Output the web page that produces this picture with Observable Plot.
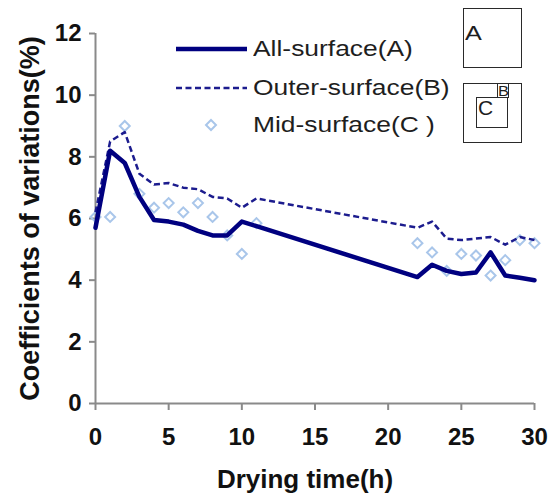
<!DOCTYPE html>
<html><head><meta charset="utf-8">
<script src="https://cdn.jsdelivr.net/npm/d3@7"></script>
<script src="https://cdn.jsdelivr.net/npm/@observablehq/plot@0.6"></script>
<style>
body{margin:0;background:#fff;}
#wrap{position:relative;width:552px;height:500px;overflow:hidden;background:#fff;}
.lt{position:absolute;font-family:"Liberation Sans",Arial,sans-serif;color:#1e1e1e;white-space:nowrap;line-height:1;transform-origin:0 50%;}
.bx{position:absolute;box-sizing:border-box;border:1.5px solid #2a2a2a;background:transparent;}
</style></head><body>
<div id="wrap"></div>
<script>
// ---- data ----
const hours = [0,1,2,3,4,5,6,7,8,9,10,11,22,23,24,25,26,27,28,29,30];
const allSurface   = [5.7,8.2,7.8,6.7,5.95,5.9,5.8,5.6,5.45,5.45,5.9,5.75,4.1,4.5,4.3,4.2,4.25,4.9,4.15,4.08,4.0];
const outerSurface = [6.2,8.5,8.8,7.45,7.1,7.15,7.0,6.95,6.7,6.65,6.35,6.65,5.7,5.9,5.35,5.3,5.35,5.4,5.15,5.4,5.3];
const midSurface   = [6.05,6.05,9.0,6.8,6.35,6.5,6.2,6.5,6.05,5.45,4.85,5.85,5.2,4.9,4.3,4.85,4.8,4.15,4.65,5.3,5.2];
const seriesNames = ["All-surface(A)","Outer-surface(B)","Mid-surface(C )"];
const xTicks = [0,5,10,15,20,25,30];
const yTicks = [0,2,4,6,8,10,12];
const xTitle = "Drying time(h)";
const yTitle = "Coefficients of variations(%)";
const insetLabels = ["A","B","C"];

const rows = hours.map((h,i)=>({h, a: allSurface[i], b: outerSurface[i], c: midSurface[i]}));

const axisGray = "#8a8a8a";
const colA = "#000080", colB = "#1c1c8e", colC = "#a9c6ea";

const chart = Plot.plot({
  width: 552, height: 500,
  marginLeft: 95, marginRight: 18, marginTop: 33, marginBottom: 97,
  style: {fontFamily: '"Liberation Sans", Arial, sans-serif', background: "white", color: "#111"},
  x: {domain: [0,30]},
  y: {domain: [0,12]},
  marks: [
    Plot.axisX({ticks: xTicks, tickSize: 7, tickPadding: 17, stroke: axisGray, strokeWidth: 2, fill: "#111", fontSize: 24, fontWeight: "bold", label: null}),
    Plot.axisY({ticks: yTicks, tickSize: 6, tickPadding: 8, stroke: axisGray, strokeWidth: 2, fill: "#111", fontSize: 24, fontWeight: "bold", label: null}),
    Plot.ruleY([0], {stroke: axisGray, strokeWidth: 2}),
    Plot.ruleX([0], {stroke: axisGray, strokeWidth: 2}),
    Plot.dot(rows, {x: "h", y: "c", symbol: "diamond2", r: 4.5, stroke: colC, strokeWidth: 2, fill: "none"}),
    Plot.line(rows, {x: "h", y: "b", stroke: colB, strokeWidth: 2.5, strokeDasharray: "6,3.5", strokeLinecap: "butt"}),
    Plot.line(rows, {x: "h", y: "a", stroke: colA, strokeWidth: 4.5}),
    Plot.text([xTitle], {text: d => d, frameAnchor: "bottom", lineAnchor: "bottom", dy: 84, dx: -10, fontSize: 26, fontWeight: "bold", fill: "#111"}),
    Plot.text([yTitle], {text: d => d, frameAnchor: "left", textAnchor: "middle", rotate: -90, lineAnchor: "top", dx: -76, fontSize: 27, fontWeight: "bold", fill: "#111"})
  ]
});

const wrap = document.getElementById("wrap");
wrap.appendChild(chart);

// ---- legend overlay ----
const legendRows = [
  {name: seriesNames[0], cy: 49, kind: "solid"},
  {name: seriesNames[1], cy: 88, kind: "dash"},
  {name: seriesNames[2], cy: 125, kind: "dot"}
];
const lsvg = d3.create("svg").attr("width", 552).attr("height", 500)
  .style("position", "absolute").style("left", "0px").style("top", "0px");
legendRows.forEach(r => {
  if (r.kind === "solid") lsvg.append("line").attr("x1", 176).attr("x2", 247).attr("y1", r.cy).attr("y2", r.cy).attr("stroke", colA).attr("stroke-width", 4.5);
  if (r.kind === "dash") lsvg.append("line").attr("x1", 176).attr("x2", 247).attr("y1", r.cy).attr("y2", r.cy).attr("stroke", colB).attr("stroke-width", 2.5).attr("stroke-dasharray", "6,3.5");
  if (r.kind === "dot") lsvg.append("path").attr("d", d3.symbol(d3.symbolDiamond2, Math.PI * 4.5 * 4.5)()).attr("transform", `translate(211,${r.cy})`).attr("fill", "none").attr("stroke", colC).attr("stroke-width", 2);
});
wrap.appendChild(lsvg.node());

legendRows.forEach(r => {
  const s = document.createElement("div");
  s.className = "lt";
  s.textContent = r.name;
  s.style.left = "253px";
  s.style.top = (r.cy - 11) + "px";
  s.style.fontSize = "22px";
  s.style.transform = "scaleX(1.2)";
  wrap.appendChild(s);
});

// ---- inset schematic ----
function box(l, t, w, h) {
  const b = document.createElement("div");
  b.className = "bx";
  Object.assign(b.style, {left: l + "px", top: t + "px", width: w + "px", height: h + "px"});
  wrap.appendChild(b);
}
function lab(txt, l, t, fs, sx) {
  const s = document.createElement("div");
  s.className = "lt";
  s.textContent = txt;
  Object.assign(s.style, {left: l + "px", top: t + "px", fontSize: fs + "px", transform: `scaleX(${sx})`, transformOrigin: "0 0"});
  wrap.appendChild(s);
}
box(463, 8, 59, 60);
lab(insetLabels[0], 465, 22, 21, 1.2);
box(463, 83, 59, 60);
box(476, 97, 32, 31);
box(497, 83, 12, 15);
lab(insetLabels[1], 498, 83, 15, 1.1);
lab(insetLabels[2], 478, 97, 21, 1.0);
</script>
</body></html>
